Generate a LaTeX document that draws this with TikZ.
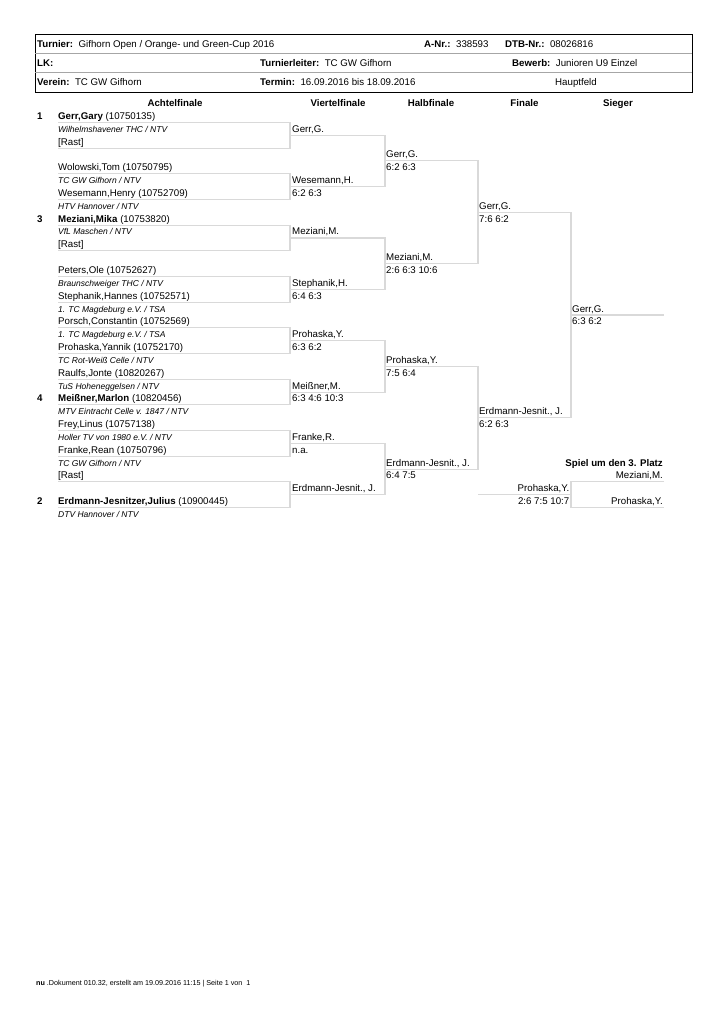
\documentclass[tikz,border=0pt]{standalone}
\usepackage{fontspec}
\setmainfont{Liberation Sans}
\newcommand{\ry}[1]{116+12.84*(#1)}
\newcommand{\by}[1]{119.4+12.84*(#1)}
\newcommand{\kgap}{\hspace{5.5pt}}
\tikzset{
	plr/.style={anchor=base west, inner sep=0pt, font=\fontsize{9.7}{11}\selectfont},
	plrr/.style={anchor=base east, inner sep=0pt, font=\fontsize{9.7}{11}\selectfont},
	club/.style={anchor=base west, inner sep=0pt, font=\fontsize{8.5}{10}\selectfont\itshape},
	colhead/.style={anchor=base, inner sep=0pt, font=\fontsize{9.7}{11}\selectfont\bfseries},
	bline/.style={draw=gray!30, line width=1.1pt},
}
\begin{document}
\begin{tikzpicture}[x=1pt, y=-1pt]
		\useasboundingbox (0,0) rectangle (726,1028);
		
		%Kopf
		\draw[line width=0.9pt] (35,34) rectangle (692,92);
		\draw[line width=0.9pt] (36,92.8) -- (692.8,92.8) -- (692.8,35);
		\draw[gray!70, line width=0.5pt] (35,53) -- (692,53);
		\draw[gray!70, line width=0.5pt] (35,72.5) -- (692,72.5);
		\node[plr] (K1) at (37,47) {\textbf{Turnier:}\kgap Gifhorn Open / Orange- und Green-Cup 2016};
		\node[plr] (K2) at (424,47) {\textbf{A-Nr.:}\kgap 338593};
		\node[plr] (K3) at (505,47) {\textbf{DTB-Nr.:}\kgap 08026816};
		\node[plr] (K4) at (37,66) {\textbf{LK:}};
		\node[plr] (K5) at (260,66) {\textbf{Turnierleiter:}\kgap TC GW Gifhorn};
		\node[plr] (K6) at (512,66) {\textbf{Bewerb:}\kgap Junioren U9 Einzel};
		\node[plr] (K7) at (37,85.5) {\textbf{Verein:}\kgap TC GW Gifhorn};
		\node[plr] (K8) at (260,85.5) {\textbf{Termin:}\kgap 16.09.2016 bis 18.09.2016};
		\node[plr, anchor=base] (K9) at (576,85.5) {Hauptfeld};
		
		%Runden
		\node[colhead] (R1) at (175,106) {Achtelfinale};
		\node[colhead] (R2) at (338,106) {Viertelfinale};
		\node[colhead] (R3) at (431,106) {Halbfinale};
		\node[colhead] (R4) at (524.5,106) {Finale};
		\node[colhead] (R5) at (618,106) {Sieger};
		
		%Linien
		\foreach \m in {0,...,7}
			\draw[bline] (58,{\ry{4*\m+0.5}}) -- (290,{\ry{4*\m+0.5}}) -- (290,{\ry{4*\m+2.5}}) -- (58,{\ry{4*\m+2.5}});
		\foreach \j in {0,...,3}
			\draw[bline] (290,{\ry{8*\j+1.5}}) -- (385,{\ry{8*\j+1.5}}) -- (385,{\ry{8*\j+5.5}}) -- (290,{\ry{8*\j+5.5}});
		\foreach \k in {0,1}
			\draw[bline] (385,{\ry{16*\k+3.5}}) -- (478,{\ry{16*\k+3.5}}) -- (478,{\ry{16*\k+11.5}}) -- (385,{\ry{16*\k+11.5}});
		\draw[bline] (478,{\ry{7.5}}) -- (571,{\ry{7.5}}) -- (571,{\ry{23.5}}) -- (478,{\ry{23.5}});
		\draw[bline] (571,{\ry{15.5}}) -- (664,{\ry{15.5}});
		\draw[bline] (478,{\ry{29.5}}) -- (571,{\ry{29.5}});
		\draw[bline] (664,{\ry{28.5}}) -- (571,{\ry{28.5}}) -- (571,{\ry{30.5}}) -- (664,{\ry{30.5}});
		
		%Setzung
		\foreach \r/\s in {0/1, 8/3, 22/4, 30/2}
			\node[plr, font=\fontsize{9.7}{11}\selectfont\bfseries] (S\s) at (37,{\by{\r}}) {\s};
		
		%Achtelfinale
		\node[plr] (A1) at (58,{\by{0}}) {\textbf{Gerr,Gary} (10750135)};
		\node[club] (C1) at (58,{\by{1}}) {Wilhelmshavener THC / NTV};
		\node[plr] (A2) at (58,{\by{2}}) {[Rast]};
		\node[plr] (A3) at (58,{\by{4}}) {Wolowski,Tom (10750795)};
		\node[club] (C3) at (58,{\by{5}}) {TC GW Gifhorn / NTV};
		\node[plr] (A4) at (58,{\by{6}}) {Wesemann,Henry (10752709)};
		\node[club] (C4) at (58,{\by{7}}) {HTV Hannover / NTV};
		\node[plr] (A5) at (58,{\by{8}}) {\textbf{Meziani,Mika} (10753820)};
		\node[club] (C5) at (58,{\by{9}}) {VfL Maschen / NTV};
		\node[plr] (A6) at (58,{\by{10}}) {[Rast]};
		\node[plr] (A7) at (58,{\by{12}}) {Peters,Ole (10752627)};
		\node[club] (C7) at (58,{\by{13}}) {Braunschweiger THC / NTV};
		\node[plr] (A8) at (58,{\by{14}}) {Stephanik,Hannes (10752571)};
		\node[club] (C8) at (58,{\by{15}}) {1. TC Magdeburg e.V. / TSA};
		\node[plr] (A9) at (58,{\by{16}}) {Porsch,Constantin (10752569)};
		\node[club] (C9) at (58,{\by{17}}) {1. TC Magdeburg e.V. / TSA};
		\node[plr] (A10) at (58,{\by{18}}) {Prohaska,Yannik (10752170)};
		\node[club] (C10) at (58,{\by{19}}) {TC Rot-Weiß Celle / NTV};
		\node[plr] (A11) at (58,{\by{20}}) {Raulfs,Jonte (10820267)};
		\node[club] (C11) at (58,{\by{21}}) {TuS Hoheneggelsen / NTV};
		\node[plr] (A12) at (58,{\by{22}}) {\textbf{Meißner,Marlon} (10820456)};
		\node[club] (C12) at (58,{\by{23}}) {MTV Eintracht Celle v. 1847 / NTV};
		\node[plr] (A13) at (58,{\by{24}}) {Frey,Linus (10757138)};
		\node[club] (C13) at (58,{\by{25}}) {Holler TV von 1980 e.V. / NTV};
		\node[plr] (A14) at (58,{\by{26}}) {Franke,Rean (10750796)};
		\node[club] (C14) at (58,{\by{27}}) {TC GW Gifhorn / NTV};
		\node[plr] (A15) at (58,{\by{28}}) {[Rast]};
		\node[plr] (A16) at (58,{\by{30}}) {\textbf{Erdmann-Jesnitzer,Julius} (10900445)};
		\node[club] (C16) at (58,{\by{31}}) {DTV Hannover / NTV};
		
		%Viertelfinale
		\node[plr] (V1) at (292,{\by{1}}) {Gerr,G.};
		\node[plr] (V2) at (292,{\by{5}}) {Wesemann,H.};
		\node[plr] (V2s) at (292,{\by{6}}) {6:2 6:3};
		\node[plr] (V3) at (292,{\by{9}}) {Meziani,M.};
		\node[plr] (V4) at (292,{\by{13}}) {Stephanik,H.};
		\node[plr] (V4s) at (292,{\by{14}}) {6:4 6:3};
		\node[plr] (V5) at (292,{\by{17}}) {Prohaska,Y.};
		\node[plr] (V5s) at (292,{\by{18}}) {6:3 6:2};
		\node[plr] (V6) at (292,{\by{21}}) {Meißner,M.};
		\node[plr] (V6s) at (292,{\by{22}}) {6:3 4:6 10:3};
		\node[plr] (V7) at (292,{\by{25}}) {Franke,R.};
		\node[plr] (V7s) at (292,{\by{26}}) {n.a.};
		\node[plr] (V8) at (292,{\by{29}}) {Erdmann-Jesnit., J.};
		
		%Halbfinale
		\node[plr] (H1) at (386,{\by{3}}) {Gerr,G.};
		\node[plr] (H1s) at (386,{\by{4}}) {6:2 6:3};
		\node[plr] (H2) at (386,{\by{11}}) {Meziani,M.};
		\node[plr] (H2s) at (386,{\by{12}}) {2:6 6:3 10:6};
		\node[plr] (H3) at (386,{\by{19}}) {Prohaska,Y.};
		\node[plr] (H3s) at (386,{\by{20}}) {7:5 6:4};
		\node[plr] (H4) at (386,{\by{27}}) {Erdmann-Jesnit., J.};
		\node[plr] (H4s) at (386,{\by{28}}) {6:4 7:5};
		
		%Finale
		\node[plr] (F1) at (479,{\by{7}}) {Gerr,G.};
		\node[plr] (F1s) at (479,{\by{8}}) {7:6 6:2};
		\node[plr] (F2) at (479,{\by{23}}) {Erdmann-Jesnit., J.};
		\node[plr] (F2s) at (479,{\by{24}}) {6:2 6:3};
		
		%Sieger
		\node[plr] (W1) at (572,{\by{15}}) {Gerr,G.};
		\node[plr] (W1s) at (572,{\by{16}}) {6:3 6:2};
		
		%Spiel um den 3. Platz
		\node[plrr, font=\fontsize{9.7}{11}\selectfont\bfseries] (P0) at (663,{\by{27}}) {Spiel um den 3. Platz};
		\node[plrr] (P1) at (663,{\by{28}}) {Meziani,M.};
		\node[plrr] (P2) at (569.5,{\by{29}}) {Prohaska,Y.};
		\node[plrr] (P2s) at (569.5,{\by{30}}) {2:6 7:5 10:7};
		\node[plrr] (P3) at (663,{\by{30}}) {Prohaska,Y.};
		
		%Fuss
		\node[plr, font=\fontsize{7.2}{8.5}\selectfont] (N1) at (36,985) {\textbf{nu} .Dokument 010.32, erstellt am 19.09.2016 11:15 | Seite 1 von\ \ 1};
		
	\end{tikzpicture}
\end{document}
